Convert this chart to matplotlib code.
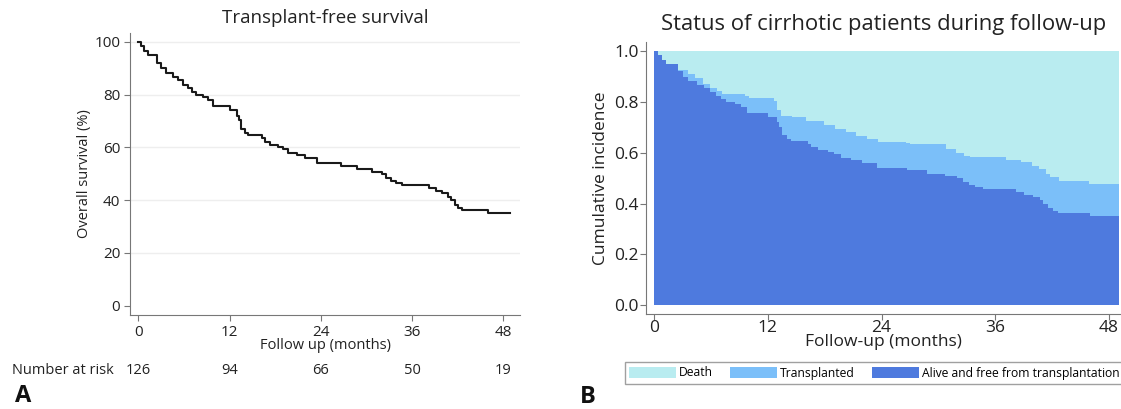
import matplotlib.pyplot as plt
import matplotlib.transforms as mtransforms
from matplotlib.patches import Patch
import numpy as np

plt.rcParams['font.family'] = ['Open Sans', 'DejaVu Sans']

# transplant-free survival (%) - step after each time (months)
km_time = [0, 0.4, 0.8, 1.2, 2.5, 3.0, 3.6, 4.5, 5.2, 5.9, 6.5, 7.0, 7.6, 8.5,
           9.2, 9.8, 12.0, 13.0, 13.2, 13.5, 14.0, 14.4, 16.2, 16.6, 17.3,
           18.4, 19.0, 19.7, 20.8, 21.9, 23.5, 26.7, 28.8, 30.7, 32.0, 32.6,
           33.2, 33.9, 34.7, 38.2, 39.1, 40.0, 40.7, 41.1, 41.6, 42.1, 42.6,
           46.0, 48.9]
km_surv = [100, 98.5, 96.5, 95.0, 92.0, 90.0, 88.2, 86.8, 85.5, 83.8, 82.4,
           81.1, 79.9, 79.0, 78.0, 75.8, 74.2, 72.0, 70.2, 66.8, 65.4, 64.6,
           63.4, 62.2, 61.0, 60.2, 59.5, 57.8, 57.0, 55.8, 54.0, 53.0, 51.7,
           50.8, 50.0, 48.5, 47.2, 46.4, 45.7, 44.5, 43.3, 42.6, 41.3, 40.0,
           38.2, 37.0, 36.2, 35.0, 35.0]

# 1 - cumulative incidence of death (top of the "Transplanted" band)
nodeath_time = [0, 0.4, 0.8, 1.2, 2.5, 3.6, 4.35, 5.1, 5.9, 6.6, 7.2, 9.6,
                10.0, 12.6, 13.0, 13.4, 14.5, 16.0, 17.9, 19.1, 20.2, 21.3,
                22.5, 23.6, 26.6, 27.0, 30.8, 31.9, 32.7, 33.4, 37.2, 38.7,
                39.9, 40.6, 41.4, 41.8, 42.7, 45.9, 49.1]
nodeath = [1.0, 0.985, 0.965, 0.95, 0.925, 0.91, 0.895, 0.87, 0.855, 0.843,
           0.83, 0.824, 0.817, 0.805, 0.77, 0.745, 0.739, 0.725, 0.709, 0.693,
           0.68, 0.667, 0.654, 0.644, 0.64, 0.634, 0.614, 0.60, 0.588, 0.582,
           0.571, 0.562, 0.549, 0.536, 0.516, 0.503, 0.49, 0.477, 0.477]

month_ticks = [0, 12, 24, 36, 48]
at_risk = [126, 94, 66, 50, 19]
legend_labels = ['Death', 'Transplanted', 'Alive and free from transplantation']
colors = ['#b9ecf0', '#7bbff9', '#4e7ade']

fig = plt.figure(figsize=(11.21, 4.09), dpi=100)

# ---- panel A
ax1 = fig.add_axes([0.116, 0.2298, 0.3479, 0.690])
ax1.step(km_time, km_surv, where='post', color='#1a1a1a', lw=1.5)
ax1.set_xlim(-1.1, 50.2)
ax1.set_ylim(-3.5, 103.4)
ax1.set_xticks(month_ticks)
ax1.set_yticks([0, 20, 40, 60, 80, 100])
for y in [20, 40, 60, 80, 100]:
    ax1.axhline(y, color='#eeeeee', lw=1, zorder=0)
for s in ['top', 'right']:
    ax1.spines[s].set_visible(False)
for s in ['left', 'bottom']:
    ax1.spines[s].set_color('#777777')
ax1.tick_params(colors='#777777', labelcolor='#222222', labelsize=11,
                length=4, pad=3)
ax1.set_xlabel('Follow up (months)', fontsize=10.5, labelpad=-1, color='#222222')
ax1.set_ylabel('Overall survival (%)', fontsize=10.5, labelpad=2, color='#222222')
fig.text(0.29, 0.955, 'Transplant-free survival', ha='center', va='center',
         fontsize=13.5, color='#222222')

trans = mtransforms.blended_transform_factory(ax1.transData, fig.transFigure)
ry = 1 - 370 / 409
fig.text(0.011, ry, 'Number at risk', ha='left', va='center', fontsize=10.5,
         color='#222222')
for m, n in zip(month_ticks, at_risk):
    ax1.text(m, ry, str(n), transform=trans, ha='center', va='center',
             fontsize=10.5, color='#222222')
fig.text(0.013, 1 - 396 / 409, 'A', ha='left', va='center', fontsize=17,
         fontweight='bold', color='#111111')

# ---- panel B
ax2 = fig.add_axes([0.576, 0.2323, 0.424, 0.6657])
end = km_time[-1] + 0.2
ax2.fill_between([0, end], 0, 1, color=colors[0], lw=0)
ax2.fill_between(nodeath_time, 0, nodeath, step='post', color=colors[1], lw=0)
ax2.fill_between(km_time + [end], 0, np.array(km_surv + [km_surv[-1]]) / 100,
                 step='post', color=colors[2], lw=0)
ax2.set_xlim(-0.91, 49.3)
ax2.set_ylim(-0.035, 1.037)
ax2.set_xticks(month_ticks)
ax2.set_yticks(np.arange(0, 1.01, 0.2))
ax2.set_yticklabels(['%.1f' % v for v in np.arange(0, 1.01, 0.2)])
for s in ['top', 'right']:
    ax2.spines[s].set_visible(False)
for s in ['left', 'bottom']:
    ax2.spines[s].set_color('#777777')
ax2.tick_params(colors='#777777', labelcolor='#222222', labelsize=12.5,
                length=4, pad=1)
ax2.tick_params(axis='x', pad=0)
ax2.set_xlabel('Follow-up (months)', fontsize=12.5, labelpad=-1, color='#222222')
ax2.set_ylabel('Cumulative incidence', fontsize=12.5, labelpad=4, color='#222222')
fig.text(0.788, 0.94, 'Status of cirrhotic patients during follow-up',
         ha='center', va='center', fontsize=15.8, color='#222222')

handles = [Patch(facecolor=c, edgecolor='none') for c in colors]
leg = fig.legend(handles, legend_labels, loc='center', ncol=3,
                 bbox_to_anchor=(0.78, 1 - 373 / 409), fontsize=8.7,
                 frameon=True, fancybox=False, handlelength=3.9,
                 handleheight=1.1, columnspacing=1.4, handletextpad=0.25,
                 borderpad=0.35, borderaxespad=0)
leg.get_frame().set_edgecolor('#888888')
leg.get_frame().set_linewidth(1)
fig.text(0.517, 1 - 397 / 409, 'B', ha='left', va='center', fontsize=17,
         fontweight='bold', color='#111111')

fig.savefig('out.png', dpi=100)
